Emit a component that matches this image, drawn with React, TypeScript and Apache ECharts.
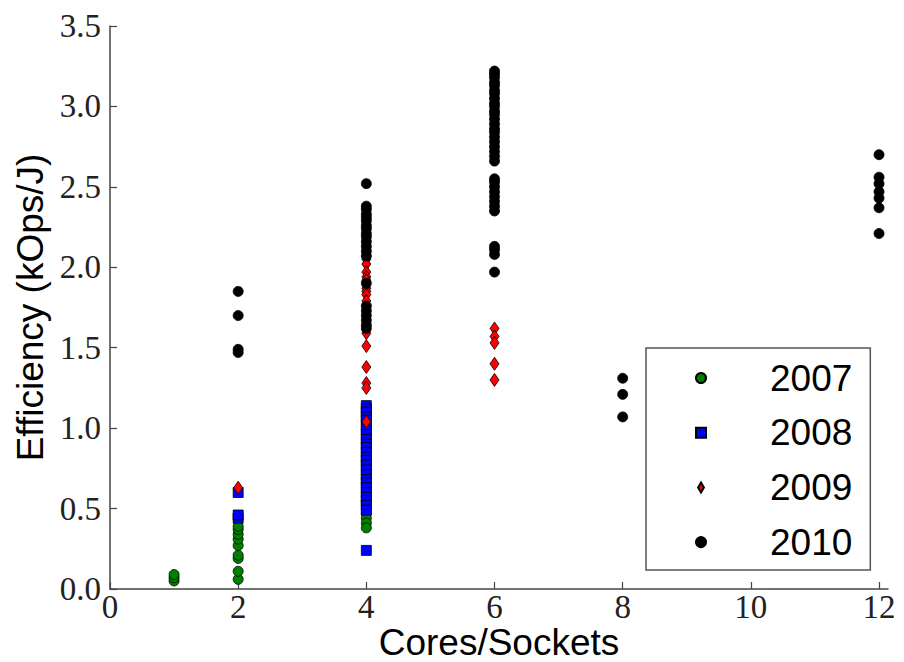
import React, { useEffect, useRef } from "react";
import * as echarts from "echarts";

// ---- Data ----
const X_TICKS = [0, 2, 4, 6, 8, 10, 12];
const YEARS = ["2007", "2008", "2009", "2010"];

// 2007 (green circles)
const s2007_x1 = [0.05, 0.07, 0.09];
const s2007_x2 = [0.06, 0.11, 0.19, 0.21, 0.27, 0.31, 0.34, 0.37, 0.39];
const s2007_x4 = [0.99, 0.47, 0.44, 0.41, 0.38];

// 2008 (blue squares)
const s2008_x2 = [0.44, 0.46, 0.6];
const s2008_x4 = [
  1.14, 1.12, 1.1, 1.07, 1.05, 1.02, 0.99, 0.96, 0.93, 0.9, 0.88, 0.85, 0.82,
  0.8, 0.77, 0.74, 0.71, 0.68, 0.66, 0.63, 0.6, 0.57, 0.55, 0.52, 0.49, 0.24,
];

// 2009 (red diamonds)
const s2009_x2 = [0.63];
const s2009_x4 = [
  2.33, 2.26, 2.05, 2.02, 1.97, 1.94, 1.92, 1.87, 1.85, 1.83, 1.79, 1.59, 1.51,
  1.38, 1.28, 1.25, 1.04,
];
const s2009_x6 = [1.62, 1.57, 1.53, 1.4, 1.3];

// 2010 (black circles)
const s2010_x2 = [1.85, 1.7, 1.49, 1.47];
const s2010_x4 = [
  2.52, 2.38, 2.36, 2.33, 2.31, 2.29, 2.26, 2.24, 2.21, 2.19, 2.16, 2.13, 2.1,
  2.07, 1.9, 1.76, 1.73, 1.7, 1.67, 1.64, 1.62,
];
const s2010_x6 = [
  3.22, 3.2, 3.18, 3.15, 3.13, 3.1, 3.08, 3.05, 3.02, 3.0, 2.97, 2.95, 2.92,
  2.89, 2.86, 2.84, 2.81, 2.78, 2.75, 2.72, 2.69, 2.66, 2.55, 2.53, 2.5, 2.47,
  2.44, 2.41, 2.38, 2.35, 2.13, 2.11, 2.08, 1.97,
];
const s2010_x8 = [1.31, 1.21, 1.07];
const s2010_x12 = [2.7, 2.56, 2.52, 2.47, 2.43, 2.37, 2.21];

const pts = (x: number, ys: number[]) => ys.map((y) => [x, y]);

const data2007 = [...pts(1, s2007_x1), ...pts(2, s2007_x2), ...pts(4, s2007_x4)];
const data2008 = [...pts(2, s2008_x2), ...pts(4, s2008_x4)];
const data2009 = [...pts(2, s2009_x2), ...pts(4, s2009_x4), ...pts(6, s2009_x6)];
const data2010 = [
  ...pts(2, s2010_x2),
  ...pts(4, s2010_x4),
  ...pts(6, s2010_x6),
  ...pts(8, s2010_x8),
  ...pts(12, s2010_x12),
];

const SERIF = "'Liberation Serif', 'DejaVu Serif', serif";
const SANS = "'Liberation Sans', Arial, sans-serif";
const AXIS_COLOR = "#444";
const DIAMOND = "path://M0,-6L3.5,0L0,6L-3.5,0Z";

export default function App() {
  const ref = useRef<HTMLDivElement>(null);

  useEffect(() => {
    if (!ref.current) return;
    const chart = echarts.init(ref.current, null, { renderer: "svg" });
    const edge = { borderColor: "#000", borderWidth: 0.8, opacity: 1 };
    chart.setOption({
      animation: false,
      backgroundColor: "#fff",
      grid: {
        left: 110,
        right: 16,
        top: 26,
        bottom: 73,
        containLabel: false,
        outerBoundsMode: "none",
      },
      xAxis: {
        type: "value",
        min: 0,
        max: 12.14,
        splitLine: { show: false },
        axisLine: { show: true, lineStyle: { color: AXIS_COLOR, width: 1.5 } },
        axisTick: {
          show: true,
          inside: true,
          length: 7,
          customValues: X_TICKS,
          lineStyle: { color: AXIS_COLOR, width: 1.2 },
        },
        axisLabel: {
          customValues: X_TICKS,
          fontFamily: SERIF,
          fontSize: 33,
          color: "#222",
          margin: 1,
        },
        name: "Cores/Sockets",
        nameLocation: "middle",
        nameMoveOverlap: false,
        nameGap: 35,
        nameTextStyle: {
          fontFamily: SANS,
          fontSize: 37,
          lineHeight: 37,
          color: "#000",
        },
      },
      yAxis: {
        type: "value",
        min: 0,
        max: 3.5,
        interval: 0.5,
        splitLine: { show: false },
        axisLine: { show: true, lineStyle: { color: AXIS_COLOR, width: 1.5 } },
        axisTick: {
          show: true,
          inside: true,
          length: 7,
          lineStyle: { color: AXIS_COLOR, width: 1.2 },
        },
        axisLabel: {
          fontFamily: SERIF,
          fontSize: 33,
          color: "#222",
          margin: 9,
          formatter: (v: number) => v.toFixed(1),
        },
        name: "Efficiency (kOps/J)",
        nameLocation: "middle",
        nameRotate: 90,
        nameGap: 58,
        nameTextStyle: { fontFamily: SANS, fontSize: 37, color: "#000" },
      },
      legend: {
        data: [
          { name: "2007", icon: "circle" },
          { name: "2008", icon: "rect" },
          { name: "2009", icon: DIAMOND },
          { name: "2010", icon: "circle" },
        ],
        orient: "vertical",
        left: 646,
        top: 348,
        padding: [10, 18, 8, 49],
        itemGap: 14.7,
        itemWidth: 10,
        itemHeight: 10,
        symbolKeepAspect: true,
        borderColor: "#555",
        borderWidth: 1.5,
        borderRadius: 0,
        backgroundColor: "#fff",
        textStyle: {
          fontFamily: SANS,
          fontSize: 37,
          lineHeight: 40,
          color: "#000",
          padding: [0, 0, 0, 59],
        },
      },
      series: [
        {
          name: YEARS[0],
          type: "scatter",
          symbol: "circle",
          symbolSize: 10,
          itemStyle: { color: "#008000", ...edge },
          emphasis: { disabled: true },
          data: data2007,
        },
        {
          name: YEARS[1],
          type: "scatter",
          symbol: "rect",
          symbolSize: 10,
          itemStyle: { color: "#0000ff", ...edge },
          emphasis: { disabled: true },
          data: data2008,
        },
        {
          name: YEARS[2],
          type: "scatter",
          symbol: "diamond",
          symbolSize: [9, 13],
          itemStyle: { color: "#ff0000", ...edge },
          emphasis: { disabled: true },
          data: data2009,
        },
        {
          name: YEARS[3],
          type: "scatter",
          symbol: "circle",
          symbolSize: 10,
          itemStyle: { color: "#000000", ...edge },
          emphasis: { disabled: true },
          data: data2010,
        },
      ],
    });
    return () => chart.dispose();
  }, []);

  return (
    <div
      ref={ref}
      style={{ position: "fixed", left: 0, top: 0, width: 904, height: 662, background: "#fff" }}
    />
  );
}
